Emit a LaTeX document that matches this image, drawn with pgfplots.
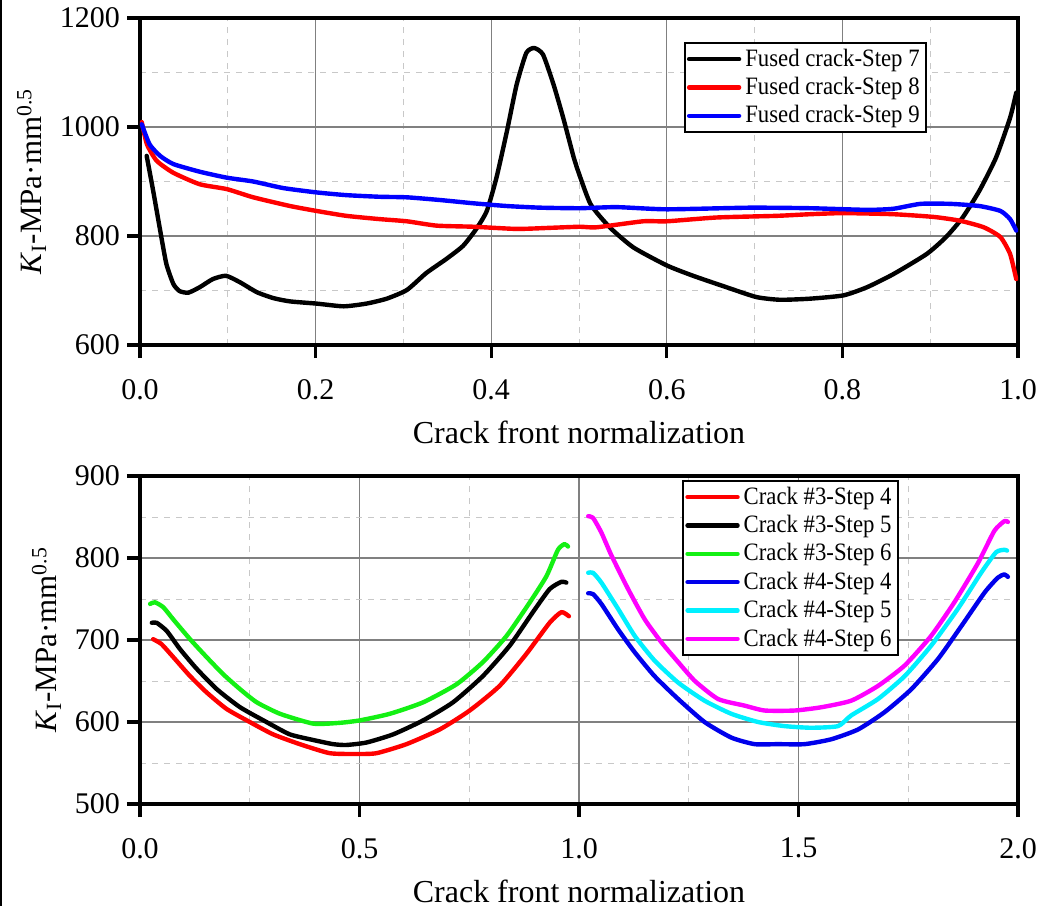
\documentclass[border=0pt]{standalone}
\usepackage{fontspec}
\setmainfont{Liberation Serif}
\newfontfamily\legfont[FakeStretch=0.91]{Liberation Serif}
\usepackage{pgfplots}
\pgfplotsset{compat=1.18}
\definecolor{mgrid}{RGB}{128,128,128}
\definecolor{ngrid}{RGB}{200,200,200}
\definecolor{cgreen}{RGB}{20,240,20}
\definecolor{ccyan}{RGB}{0,240,255}
\definecolor{cmag}{RGB}{255,0,255}
\definecolor{cblue}{RGB}{0,0,235}
\pgfplotsset{
  common/.style={
    scale only axis,
    width=439pt,
    axis line style={line width=1.6pt},
    tick style={line width=1.6pt,black},
    major tick length=6.5pt,
    minor tick length=0pt,
    tick align=outside,
    tick pos=left,
    grid=both,
    major grid style={mgrid,line width=0.6pt},
    minor grid style={ngrid,dashed,line width=0.5pt},
    /pgf/number format/assume math mode=true,
    /pgf/number format/1000 sep={},
    tick label style={font=\fontsize{15}{18}\selectfont},
    xticklabel style={yshift=-7pt,/pgf/number format/fixed,/pgf/number format/precision=1,/pgf/number format/fixed zerofill},
    ylabel style={font=\fontsize{15.5}{18}\selectfont},
    every axis x label/.style={at={(axis description cs:0.5,0)},anchor=base,yshift=-49pt,font=\fontsize{16}{18}\selectfont},
    xlabel={Crack front normalization},
    ylabel={\textit{K}\textsubscript{I}-MPa·mm\textsuperscript{0.5}},
    legend cell align=left,
    legend style={draw=black,line width=1pt,font=\legfont\fontsize{12.5}{14.8}\selectfont,inner sep=1pt,row sep=0pt},
    legend image code/.code={\draw[#1,line width=2.2pt] plot coordinates {(0pt,0pt) (25pt,0pt)};},
    every axis plot/.append style={line width=2.2pt,line join=round,line cap=round,smooth,tension=0.35},
  }
}
\begin{document}
\begin{tikzpicture}
\useasboundingbox (0,0) rectangle (523pt,-453pt);
\draw[line width=1pt] (0.5pt,0) -- (0.5pt,-453pt);
\begin{axis}[common,
  at={(70pt,-172.5pt)}, anchor=south west,
  height=163.5pt,
  xmin=0, xmax=1, ymin=600, ymax=1200,
  xtick={0,0.2,...,1.0}, minor xtick={0.1,0.3,0.5,0.7,0.9},
  ytick={600,800,1000,1200}, minor ytick={700,900,1100},
  legend style={at={(0.896,0.927)},anchor=north east},
]
\addplot[black] coordinates {
(0.0076,947) (0.015,883) (0.023,810) (0.030,749) (0.038,712) (0.045,699) (0.055,696)
(0.068,706) (0.083,721) (0.098,727) (0.114,715) (0.133,697) (0.152,686) (0.171,680)
(0.201,676) (0.232,671) (0.258,676) (0.281,685) (0.304,701) (0.326,732) (0.349,758)
(0.368,782) (0.383,813) (0.395,846) (0.406,907) (0.418,993) (0.429,1078) (0.440,1136)
(0.449,1145) (0.459,1133) (0.471,1078) (0.482,1017) (0.494,944) (0.4975,926)
(0.513,859) (0.535,816) (0.562,779) (0.600,746) (0.630,727) (0.668,706) (0.702,688)
(0.729,683) (0.763,685) (0.801,691) (0.828,706) (0.858,730) (0.896,767) (0.918,798)
(0.937,834) (0.956,883) (0.975,944) (0.991,1017) (0.998,1063)
};
\addlegendentry{Fused crack-Step 7}
\addplot[red] coordinates {
(0.002,1009) (0.008,968) (0.019,938) (0.038,916) (0.068,895) (0.099,886) (0.129,871)
(0.171,855) (0.201,846) (0.235,837) (0.273,831) (0.304,827) (0.338,819) (0.380,817)
(0.429,813) (0.467,815) (0.501,817) (0.520,816) (0.573,827) (0.600,827) (0.657,834)
(0.725,837) (0.763,840) (0.801,842) (0.858,840) (0.904,835) (0.934,828) (0.961,816)
(0.980,798) (0.991,767) (0.998,721)
};
\addlegendentry{Fused crack-Step 8}
\addplot[blue] coordinates {
(0.002,1005) (0.011,968) (0.023,947) (0.038,932) (0.068,918) (0.099,907) (0.129,900)
(0.163,888) (0.201,880) (0.235,875) (0.273,872) (0.304,871) (0.342,866) (0.380,860)
(0.418,855) (0.456,852) (0.501,851) (0.543,853) (0.600,849) (0.695,852) (0.763,851)
(0.828,848) (0.858,850) (0.889,859) (0.923,859) (0.956,855) (0.980,846) (0.991,831)
(0.998,810)
};
\addlegendentry{Fused crack-Step 9}
\end{axis}
\begin{axis}[common,
  at={(70pt,-402pt)}, anchor=south west,
  height=164pt,
  xmin=0, xmax=2, ymin=500, ymax=900,
  xtick={0,0.5,...,2.0}, minor xtick={0.25,0.75,1.25,1.75},
  ytick={500,600,...,900}, minor ytick={550,650,750,850},
  legend style={at={(0.864,0.988)},anchor=north east},
]
\addplot[red] coordinates {
(0.030,701) (0.049,695) (0.076,679) (0.114,656) (0.152,636) (0.197,616) (0.250,600)
(0.303,585) (0.364,573) (0.432,562) (0.493,561) (0.539,562) (0.607,573) (0.683,591)
(0.751,614) (0.819,644) (0.880,683) (0.933,721) (0.960,734) (0.977,729)
};
\addlegendentry{Crack \#3-Step 4}
\addplot[black] coordinates {
(0.027,721) (0.038,721) (0.061,711) (0.091,689) (0.129,665) (0.175,640) (0.228,618)
(0.288,600) (0.341,585) (0.395,578) (0.440,573) (0.470,572) (0.516,575) (0.577,585)
(0.645,602) (0.713,624) (0.781,656) (0.842,693) (0.895,734) (0.933,762) (0.960,771)
(0.971,770)
};
\addlegendentry{Crack \#3-Step 5}
\addplot[cgreen] coordinates {
(0.023,744) (0.034,746) (0.053,740) (0.076,725) (0.114,701) (0.152,679) (0.190,658)
(0.228,640) (0.266,624) (0.319,610) (0.395,598) (0.455,599) (0.501,602) (0.569,610)
(0.645,624) (0.721,646) (0.781,673) (0.835,705) (0.888,746) (0.926,778) (0.952,810)
(0.967,817) (0.975,814)
};
\addlegendentry{Crack \#3-Step 6}
\addplot[cblue] coordinates {
(1.021,757) (1.032,756) (1.051,744) (1.089,713) (1.127,685) (1.172,656) (1.226,628)
(1.286,600) (1.347,581) (1.400,573) (1.453,573) (1.514,573) (1.575,579) (1.636,591)
(1.696,612) (1.757,640) (1.818,677) (1.871,717) (1.924,758) (1.954,776) (1.969,780)
(1.977,777)
};
\addlegendentry{Crack \#4-Step 4}
\addplot[ccyan] coordinates {
(1.021,782) (1.032,782) (1.051,770) (1.089,738) (1.127,705) (1.172,675) (1.226,648)
(1.286,626) (1.347,610) (1.408,600) (1.468,595) (1.529,593) (1.590,595) (1.620,608)
(1.681,628) (1.742,656) (1.802,693) (1.863,738) (1.916,782) (1.950,807) (1.969,810)
(1.975,809)
};
\addlegendentry{Crack \#4-Step 5}
\addplot[cmag] coordinates {
(1.021,851) (1.032,849) (1.051,831) (1.074,803) (1.112,762) (1.150,725) (1.188,697)
(1.226,673) (1.264,650) (1.317,628) (1.377,620) (1.423,614) (1.491,614) (1.552,618)
(1.620,626) (1.681,644) (1.742,669) (1.802,705) (1.855,746) (1.909,794) (1.946,833)
(1.969,845) (1.977,844)
};
\addlegendentry{Crack \#4-Step 6}
\end{axis}
\end{tikzpicture}
\end{document}
